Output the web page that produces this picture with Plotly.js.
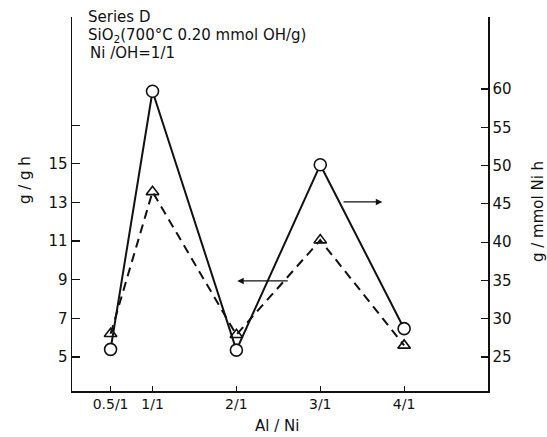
<!DOCTYPE html>
<html>
<head>
<meta charset="utf-8">
<script src="https://cdn.plot.ly/plotly-3.0.1.min.js"></script>
<style>html,body{margin:0;padding:0;background:#fff;}#chart{width:547px;height:437px;}</style>
</head>
<body>
<div id="chart"></div>
<script>
// Data
const ratioX = [0.5, 1, 2, 3, 4];
const ratioLabels = ["0.5/1", "1/1", "2/1", "3/1", "4/1"];
const perGramCat = [6.2, 13.55, 6.15, 11.05, 5.6];      // g / g h (left axis, dashed, triangles)
const perMmolNi = [26.0, 59.7, 25.9, 50.1, 28.7];       // g / mmol Ni h (right axis, solid, circles)
const leftTicks = [5, 7, 9, 11, 13, 15, 17];
const leftTickText = ["5", "7", "9", "11", "13", "15", ""];
const rightTicks = [25, 30, 35, 40, 45, 50, 55, 60];
// arrows: [x tail, x head, y (left-axis units)]
const arrowRight = [3.26, 3.74, 13.03];
const arrowLeft = [2.63, 2.01, 8.94];

const FONT = "DejaVu Sans, sans-serif";
const INK = "#111";

const traces = [
  {
    x: ratioX, y: perGramCat, yaxis: "y", type: "scatter", mode: "lines+markers",
    line: {color: INK, width: 2, dash: "9px,6px"},
    marker: {symbol: "triangle-up-open", size: 11, color: INK, line: {width: 1.6, color: INK}},
    showlegend: false, cliponaxis: false
  },
  {
    x: ratioX, y: perMmolNi, yaxis: "y2", type: "scatter", mode: "lines+markers",
    line: {color: INK, width: 2},
    marker: {symbol: "circle", size: 12, color: "#fff", line: {width: 1.6, color: INK}},
    showlegend: false, cliponaxis: false
  }
];

const layout = {
  width: 547, height: 437,
  margin: {l: 72, r: 59, t: 17, b: 46},
  paper_bgcolor: "#fff", plot_bgcolor: "#fff",
  font: {family: FONT, size: 15, color: INK},
  xaxis: {
    range: [0.04, 5.0], tickvals: ratioX, ticktext: ratioLabels,
    showline: true, linecolor: INK, linewidth: 1.5, showgrid: false, zeroline: false,
    ticks: "inside", ticklen: 5, tickcolor: INK, tickwidth: 1.2,
    tickfont: {family: FONT, size: 14, color: INK}
  },
  yaxis: {
    range: [3.24, 22.6], tickvals: leftTicks, ticktext: leftTickText,
    showline: true, linecolor: INK, linewidth: 1.5, showgrid: false, zeroline: false,
    ticks: "inside", ticklen: 8, tickcolor: INK, tickwidth: 1.2,
    tickfont: {family: FONT, size: 15, color: INK}
  },
  yaxis2: {
    range: [20.56, 69.4], tickvals: rightTicks, overlaying: "y", side: "right",
    showline: true, linecolor: INK, linewidth: 1.5, showgrid: false, zeroline: false,
    ticks: "inside", ticklen: 7, tickcolor: INK, tickwidth: 1.2,
    tickfont: {family: FONT, size: 15, color: INK}
  },
  annotations: [
    {text: "Series D", xref: "paper", yref: "paper", x: 0.034, y: 1.0, xanchor: "left", yanchor: "middle", showarrow: false, font: {family: FONT, size: 15, color: INK}},
    {text: "SiO<sub>2</sub>(700°C 0.20 mmol OH/g)", xref: "paper", yref: "paper", x: 0.034, y: 0.951, xanchor: "left", yanchor: "middle", showarrow: false, font: {family: FONT, size: 15, color: INK}},
    {text: "Ni /OH=1/1", xref: "paper", yref: "paper", x: 0.038, y: 0.904, xanchor: "left", yanchor: "middle", showarrow: false, font: {family: FONT, size: 15, color: INK}},
    {text: "g / g h", xref: "paper", yref: "paper", x: -0.113, y: 0.564, xanchor: "center", yanchor: "middle", textangle: -90, showarrow: false, font: {family: FONT, size: 15, color: INK}},
    {text: "g / mmol Ni h", xref: "paper", yref: "paper", x: 1.12, y: 0.481, xanchor: "center", yanchor: "middle", textangle: -90, showarrow: false, font: {family: FONT, size: 15, color: INK}},
    {text: "Al / Ni", xref: "paper", yref: "paper", x: 0.493, y: -0.094, xanchor: "center", yanchor: "middle", showarrow: false, font: {family: FONT, size: 15, color: INK}},
    {text: "", xref: "x", yref: "y", x: arrowRight[1], y: arrowRight[2], axref: "x", ayref: "y", ax: arrowRight[0], ay: arrowRight[2], showarrow: true, arrowhead: 2, arrowsize: 1, arrowwidth: 1.3, arrowcolor: INK},
    {text: "", xref: "x", yref: "y", x: arrowLeft[1], y: arrowLeft[2], axref: "x", ayref: "y", ax: arrowLeft[0], ay: arrowLeft[2], showarrow: true, arrowhead: 2, arrowsize: 1, arrowwidth: 1.3, arrowcolor: INK}
  ]
};

Plotly.newPlot("chart", traces, layout, {displayModeBar: false, staticPlot: true});
</script>
</body>
</html>
